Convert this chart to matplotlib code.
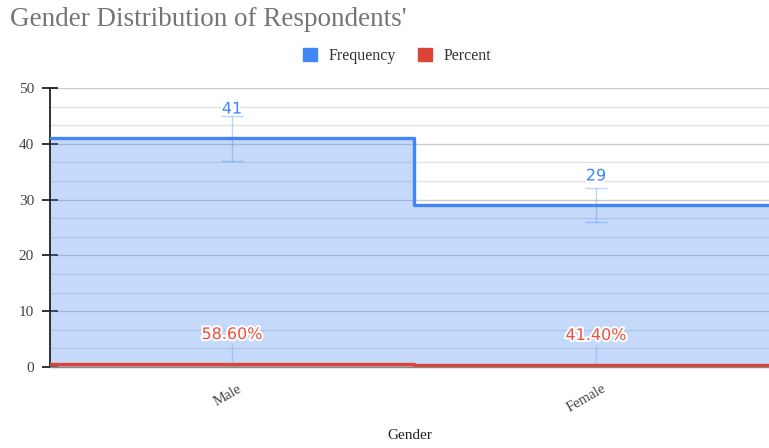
import numpy as np
import matplotlib
matplotlib.use("Agg")
import matplotlib.pyplot as plt
import matplotlib.patheffects as pe
from matplotlib.patches import Patch
from matplotlib.ticker import MultipleLocator
import matplotlib.transforms as mtrans

# data
categories = ["Male", "Female"]
frequency = [41, 29]
freq_err = [4, 3]
percent = [0.586, 0.414]
percent_labels = ["58.60%", "41.40%"]
pct_err_low = [0.586, 0.414]
pct_err_high = [3.5, 3.5]

blue = "#4285F4"
red = "#DB4437"
serif = "Liberation Serif"
sans = "DejaVu Sans"

fig = plt.figure(figsize=(7.69, 4.48), dpi=100)
ax = fig.add_axes([50 / 769, 81 / 448, 719 / 769, 279 / 448])

x = np.arange(len(categories))
edges = np.arange(len(categories) + 1) - 0.5

def stepped(vals):
    return list(vals) + [vals[-1]]

# grid first so the fill tints it
ax.yaxis.set_major_locator(MultipleLocator(10))
ax.yaxis.set_minor_locator(MultipleLocator(10 / 3))
ax.grid(axis="y", which="major", color="#cccccc", lw=1, zorder=0)
ax.grid(axis="y", which="minor", color="#e3e3e3", lw=1, zorder=0)
ax.set_axisbelow(True)

ax.fill_between(edges, stepped(frequency), step="post", color=blue, alpha=0.3, lw=0, zorder=1)
ax.step(edges, stepped(frequency), where="post", color=blue, lw=2.4, zorder=3,
        solid_joinstyle="round")
ax.fill_between(edges, stepped(percent), step="post", color=red, alpha=0.3, lw=0, zorder=1)
ax.step(edges, stepped(percent), where="post", color=red, lw=2.4, zorder=3)

# error bars
ax.errorbar(x, frequency, yerr=freq_err, fmt="none", ecolor=blue, alpha=0.35,
            elinewidth=1, capsize=8, capthick=1, zorder=2)
ax.errorbar(x, percent, yerr=[pct_err_low, pct_err_high], fmt="none", ecolor=blue,
            alpha=0.25, elinewidth=1, capsize=0, zorder=2)

# annotations
halo = [pe.withStroke(linewidth=3, foreground="white")]
for xi, v in zip(x, frequency):
    ax.annotate(str(v), (xi, v), xytext=(0, 21), textcoords="offset points",
                ha="center", va="center", color=blue, fontsize=11.5, family=sans,
                path_effects=halo, zorder=5)
for xi, v, lab in zip(x, percent, percent_labels):
    ax.annotate(lab, (xi, v), xytext=(0, 21), textcoords="offset points",
                ha="center", va="center", color="#E8533F", fontsize=11.5, family=sans,
                path_effects=halo, zorder=5)

ax.set_xlim(-0.5, -0.5 + 719 / 364)
ax.set_ylim(0, 50)

for s in ["top", "right"]:
    ax.spines[s].set_visible(False)
ax.spines["left"].set_color("#222222")
ax.spines["left"].set_linewidth(1.3)
ax.spines["bottom"].set_color("#888888")
ax.spines["bottom"].set_linewidth(1)

ax.tick_params(axis="y", which="major", direction="inout", length=11, width=1.3,
               color="#222222", labelsize=11, labelcolor="#444444", pad=6)
ax.tick_params(axis="y", which="minor", length=0)
for lab in ax.get_yticklabels():
    lab.set_family(serif)

ax.set_xticks(x)
ax.set_xticklabels(categories, rotation=30, ha="right", va="center",
                   rotation_mode="anchor", family=serif, fontsize=10.5, color="#444444")
ax.tick_params(axis="x", length=0, pad=15)
offset = mtrans.ScaledTranslation(9 / 100, 0, fig.dpi_scale_trans)
for lab in ax.get_xticklabels():
    lab.set_transform(lab.get_transform() + offset)

ax.set_xlabel("Gender", family=serif, fontsize=11, color="#222222", labelpad=10)

fig.text(10 / 769, 1 - 19 / 448, "Gender Distribution of Respondents'", family=serif,
         fontsize=19.5, color="#757575", ha="left", va="center")

handles = [Patch(facecolor=blue, edgecolor=blue), Patch(facecolor=red, edgecolor=red)]
fig.legend(handles, ["Frequency", "Percent"], loc="center", bbox_to_anchor=(397 / 769, 1 - 56 / 448),
           ncol=2, frameon=False, handlelength=0.9, handleheight=0.9, handletextpad=0.7,
           columnspacing=1.4, prop={"family": serif, "size": 11.5}, labelcolor="#333333")

fig.savefig("out.png", dpi=100)
